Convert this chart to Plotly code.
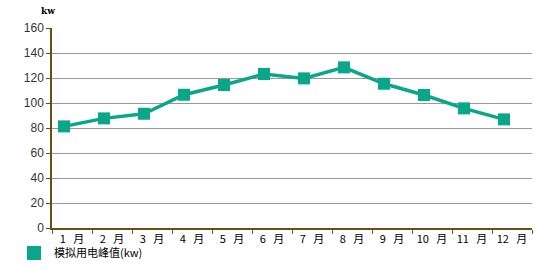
import plotly.graph_objects as go

months = ["1 月", "2 月", "3 月", "4 月", "5 月", "6 月",
          "7 月", "8 月", "9 月", "10 月", "11 月", "12 月"]
peak_kw = [81.3, 87.7, 91.4, 106.6, 114.4, 123.2, 119.7, 128.5, 115.4, 106.4, 95.7, 86.9]
series_name = "模拟用电峰值(kw)"
y_ticks = [0, 20, 40, 60, 80, 100, 120, 140, 160]

teal = "#0aa68a"
brown = "#6b4e16"

idx = list(range(len(months)))

L, R, T, B = 52, 28, 28, 42
W, H = 560, 270
pw, ph = W - L - R, H - T - B

fig = go.Figure()
fig.add_trace(go.Scatter(
    x=idx, y=peak_kw, mode="lines+markers",
    line=dict(color=teal, width=3.5),
    marker=dict(symbol="square", size=12, color=teal),
    showlegend=False, hoverinfo="skip",
))
fig.add_trace(go.Scatter(
    x=[None], y=[None], mode="markers", name=series_name,
    marker=dict(symbol="square", size=14, color=teal),
    showlegend=True,
))

fig.update_layout(
    width=W, height=H,
    margin=dict(l=L, r=R, t=T, b=B, autoexpand=False),
    paper_bgcolor="white", plot_bgcolor="white",
    font=dict(family="Arial, Liberation Sans", size=12, color="#333333"),
    xaxis=dict(
        range=[-0.3, len(months) - 0.3],
        tickmode="array",
        tickvals=[i + 0.2 for i in idx],
        ticktext=[m.replace(" ", "\u00a0\u00a0\u00a0") for m in months],
        ticks="",
        showgrid=False, zeroline=False,
        showline=True, linecolor=brown, linewidth=1.5,
        tickfont=dict(family="Noto Sans CJK SC", size=11, color="#000000"),
        minor=dict(tickmode="array", tickvals=[i - 0.3 for i in range(len(months) + 1)],
                   ticks="outside", ticklen=4, tickcolor=brown, tickwidth=1, showgrid=False),
        fixedrange=True,
    ),
    yaxis=dict(
        range=[0, 160],
        tickmode="array", tickvals=y_ticks,
        ticks="outside", ticklen=4, tickcolor=brown, tickwidth=1,
        showgrid=True, gridcolor="#999999", gridwidth=1,
        zeroline=False,
        showline=True, linecolor=brown, linewidth=1.5,
        tickfont=dict(family="Arial, Liberation Sans", size=12, color="#333333"),
        fixedrange=True,
    ),
    legend=dict(
        x=0.025, y=(H - 253) / H, xref="container", yref="container",
        xanchor="left", yanchor="middle",
        orientation="h",
        font=dict(family="Noto Sans CJK SC", size=11, color="#000000"),
        bgcolor="rgba(0,0,0,0)",
    ),
    annotations=[dict(
        text="<b>kw</b>", x=(48 - L) / pw, y=(H - B - 11) / ph,
        xref="paper", yref="paper", xanchor="center", yanchor="middle",
        showarrow=False, font=dict(family="DejaVu Serif", size=9, color="#000000"),
    )],
)

fig.write_html("out.html")
